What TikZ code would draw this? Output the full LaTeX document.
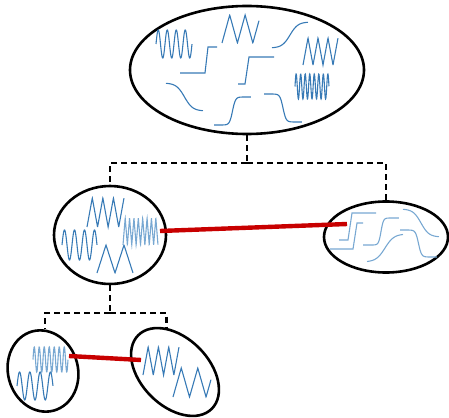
\documentclass[tikz,border=0pt]{standalone}
\usepackage{tikz}
\usetikzlibrary{shapes.geometric,positioning}
\definecolor{sigblue}{RGB}{55,122,182}
\definecolor{siglight}{RGB}{120,168,210}
\definecolor{linkred}{RGB}{200,0,0}
\tikzset{
  blob/.style={ellipse,draw=black,line width=2.6pt,inner sep=0pt},
  sig/.style={sigblue,line width=1.1pt},
  sigl/.style={siglight,line width=1.1pt},
  branch/.style={line width=2.6pt,dash pattern=on 6pt off 4pt},
  match/.style={linkred,line width=4.4pt}
}
% little signal pieces: [style]{x0}{y0}{width}{height}{cycles or steepness}
\newcommand{\sinus}[6][sig]{\draw[#1] plot[domain=0:1,samples=160,smooth] ({#2+#4*\x},{#3+#5/2-#5/2*sin(360*#6*\x)});}
\newcommand{\zigzag}[6][sig]{\draw[#1] plot[domain=0:1,samples=300] ({#2+#4*\x},{#3+#5/2+#5/2*(4*abs(#6*\x-floor(#6*\x)-0.5)-1)});}
\newcommand{\sigm}[6][sig]{\draw[#1] plot[domain=0:1,samples=80,smooth] ({#2+#4*\x},{#3+(#5)/(1+exp(min(9,max(-9,-#6*(\x-0.5)))))});}

\begin{document}
\begin{tikzpicture}[x=1pt,y=-1pt]
\useasboundingbox (0,0) rectangle (449,417);
% clusters
\node[blob,minimum width=234pt,minimum height=128pt] (top) at (247,70) {};
\node[blob,minimum width=112pt,minimum height=98pt] (ml) at (110,235) {};
\node[blob,minimum width=124pt,minimum height=71pt] (mr) at (386,237) {};
\node[blob,minimum width=70pt,minimum height=82pt,rotate=15] (bl) at (43,371) {};
\node[blob,minimum width=104pt,minimum height=68pt,rotate=-45] (br) at (175,372) {};
% splits
\coordinate (j1) at (247,163);
\coordinate (j2) at (ml.south |- 0,313);
\draw[branch] (top.south) -- (j1) (j1) -| (ml.north) (j1) -| (mr.north);
\draw[branch] (ml.south) -- (j2) (j2) -| (bl.72) (j2) -| (br.146);
% top cluster
\sinus{156}{30}{36}{28}{4}
\zigzag{222}{15}{37}{28}{2.4}
\sigm{272}{48}{36}{-26}{9}
\zigzag{303}{38}{35}{27}{3.5}
\draw[sig] (180,73) -- (205,73) -- (208,47) -- (217,47);
\draw[sig] (238,84) -- (245,84) -- (249,57) -- (274,57);
\sinus{295}{74}{34}{25}{7.5}
\sigm{166}{83}{37}{28}{9}
\sigm{214}{125}{37}{-28}{25}
\sigm{264}{94}{38}{28}{25}
% left cluster
\zigzag{87}{198}{37}{29}{3.5}
\zigzag[sigl]{123}{218}{35}{27}{8}
\sinus{62}{230}{35}{30}{3.5}
\zigzag{97}{245}{36}{28}{2}
% right cluster
\draw[sigl] (339,240) -- (348,240) -- (352,213) -- (376,213);
\draw[sigl] (330,249) -- (353,249) -- (357,223) -- (363,223);
\sigm[sigl]{363}{245}{36}{-27}{30}
\sigm[sigl]{367}{262}{36}{-28}{8}
\sigm[sigl]{403}{209}{36}{28}{9}
\sigm[sigl]{400}{230}{37}{27}{25}
% bottom clusters
\sinus[sigl]{33}{347}{35}{25}{7}
\sinus{17}{372}{36}{28}{3.5}
\zigzag{143}{347}{36}{28}{3.5}
\zigzag{173}{368}{38}{29}{2.3}
% links
\coordinate (mlend) at (160,231);
\coordinate (mrend) at (347,224);
\coordinate (blend) at (69,356);
\coordinate (brend) at (141,360);
\draw[match] (mlend) -- (mrend);
\draw[match] (blend) -- (brend);
\end{tikzpicture}
\end{document}
